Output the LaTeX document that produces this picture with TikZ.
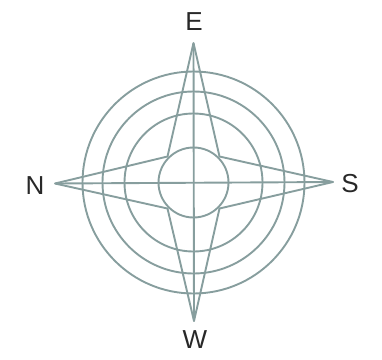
\documentclass[tikz,border=0pt]{standalone}
\usepackage{fontspec}
\setmainfont{Liberation Sans}
\usetikzlibrary{calc}
\definecolor{rose}{RGB}{135,158,158}
\definecolor{ink}{RGB}{40,40,40}
\begin{document}
\begin{tikzpicture}[x=1pt,y=-1pt,
  roseline/.style={draw=rose,line width=1.9pt,line join=round},
  lbl/.style={text=ink,font=\fontsize{26}{28}\selectfont,inner sep=0pt}]
\useasboundingbox (0,0) rectangle (382,359);
\coordinate (c) at (193.5,182.5);
\coordinate (tE) at (193.5,43);
\coordinate (tW) at (194,321);
\coordinate (tN) at (55,183.5);
\coordinate (tS) at (333,182);
\coordinate (iNE) at ($(c)+(-26,-26)$);
\coordinate (iES) at ($(c)+(26,-26)$);
\coordinate (iSW) at ($(c)+(26,26)$);
\coordinate (iWN) at ($(c)+(-26,26)$);
% circles
\foreach \r in {111,91,69,35} \draw[roseline] (c) circle (\r);
% cross
\draw[roseline] (tN) -- (tS);
\draw[roseline] (tE) -- (tW);
% star
\draw[roseline] (tE) -- (iES) -- (tS) -- (iSW) -- (tW) -- (iWN) -- (tN) -- (iNE) -- cycle;
% labels
\node[lbl] (E) at (194,22) {E};
\node[lbl] (N) at (35,185.5) {N};
\node[lbl] (S) at (350,184) {S};
\node[lbl] (W) at (195,340) {W};
\end{tikzpicture}
\end{document}
